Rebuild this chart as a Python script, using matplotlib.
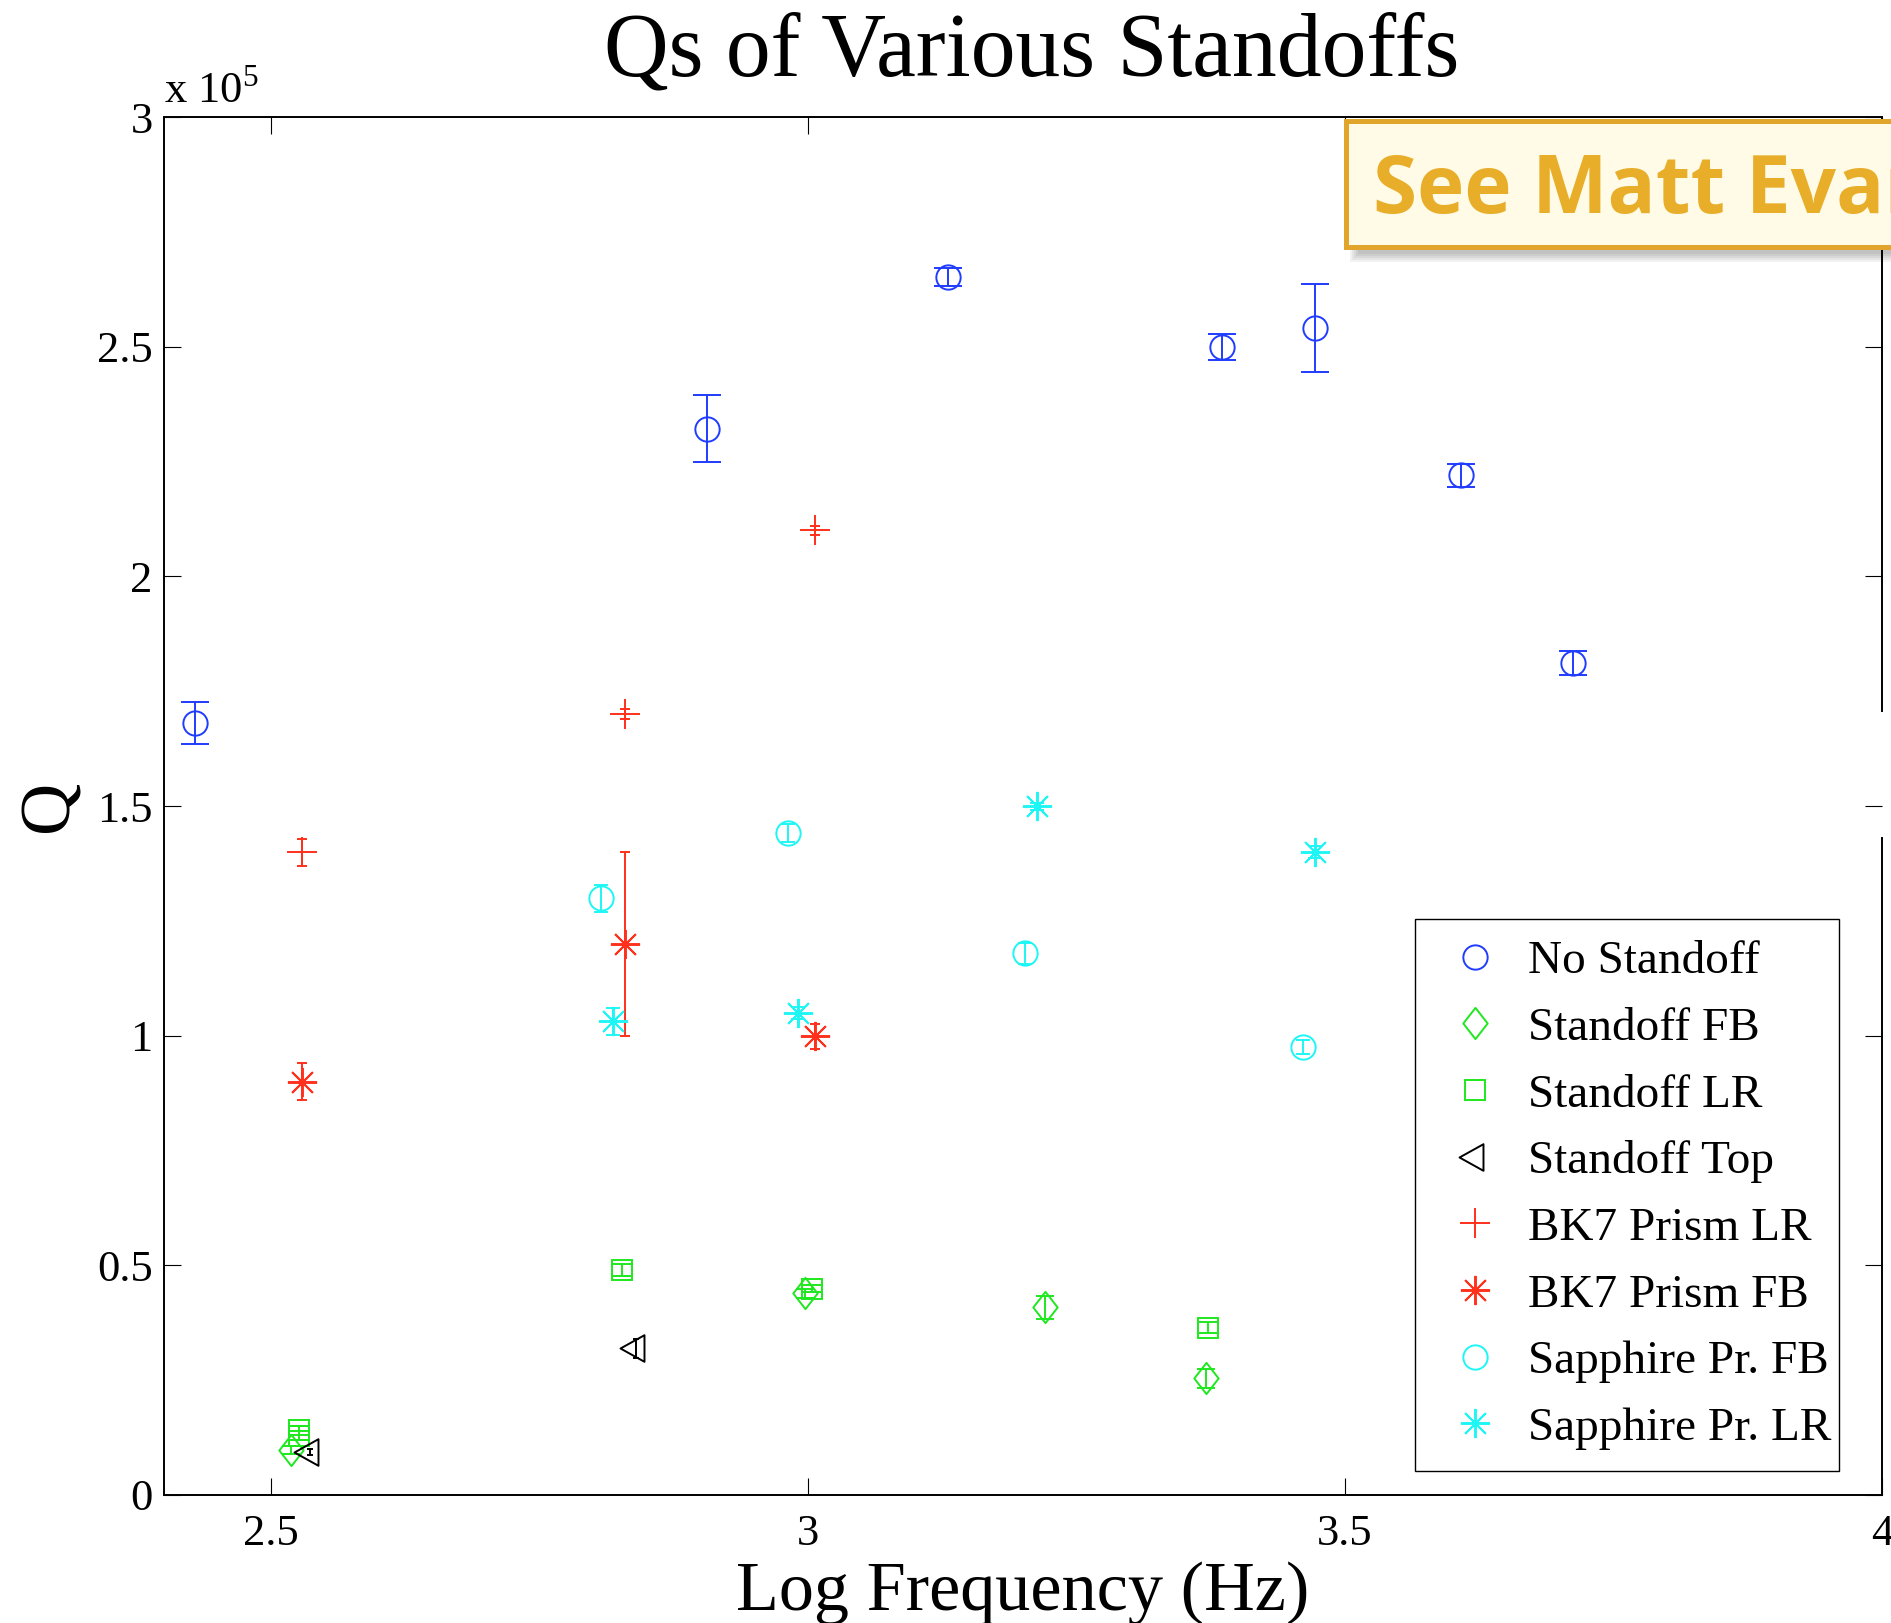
import numpy as np
import matplotlib
matplotlib.use("Agg")
import matplotlib.pyplot as plt
from matplotlib.lines import Line2D
from matplotlib.patches import Rectangle
from matplotlib.path import Path
from matplotlib.ticker import FixedLocator, FuncFormatter

# ---- data: log10 frequency (Hz), quality factor Q, and Q uncertainty ----
no_x = [2.429, 2.906, 3.130, 3.385, 3.472, 3.608, 3.712]
no_q = [1.680e5, 2.321e5, 2.652e5, 2.500e5, 2.540e5, 2.220e5, 1.811e5]
no_e = [0.046e5, 0.073e5, 0.019e5, 0.028e5, 0.096e5, 0.025e5, 0.026e5]

sfb_x = [2.519, 2.997, 3.221, 3.371]
sfb_q = [0.098e5, 0.439e5, 0.409e5, 0.254e5]
sfb_e = [0.008e5, 0.010e5, 0.025e5, 0.020e5]

slr_x = [2.526, 2.526, 2.827, 3.004, 3.372]
slr_q = [0.141e5, 0.129e5, 0.490e5, 0.449e5, 0.364e5]
slr_e = [0.010e5, 0.010e5, 0.013e5, 0.008e5, 0.012e5]

stop_x = [2.536, 2.840]
stop_q = [0.094e5, 0.319e5]
stop_e = [0.007e5, 0.020e5]

bk7lr_x = [2.529, 2.830, 3.006]
bk7lr_q = [1.399e5, 1.700e5, 2.100e5]
bk7lr_e = [0.030e5, 0.0105e5, 0.010e5]

bk7fb_x = [2.529, 2.830, 3.006]
bk7fb_q = [0.900e5, 1.199e5, 0.999e5]
bk7fb_e = [0.040e5, 0.200e5, 0.027e5]

sapfb_x = [2.807, 2.981, 3.202, 3.461]
sapfb_q = [1.299e5, 1.441e5, 1.179e5, 0.975e5]
sapfb_e = [0.030e5, 0.020e5, 0.022e5, 0.016e5]

saplr_x = [2.818, 2.991, 3.213, 3.472]
saplr_q = [1.031e5, 1.050e5, 1.499e5, 1.399e5]
saplr_e = [0.030e5, 0.013e5, 0.008e5, 0.013e5]

labels = ["No Standoff", "Standoff FB", "Standoff LR", "Standoff Top",
          "BK7 Prism LR", "BK7 Prism FB", "Sapphire Pr. FB", "Sapphire Pr. LR"]

x_ticks = [2.5, 3.0, 3.5, 4.0]
x_tick_labels = ["2.5", "3", "3.5", "4"]
y_ticks = [0, 0.5e5, 1.0e5, 1.5e5, 2.0e5, 2.5e5, 3.0e5]
y_tick_labels = ["0", "0.5", "1", "1.5", "2", "2.5", "3"]

# ---- styling ----
BLUE = "#1f3cff"
GREEN = "#1ee81e"
BLACK = "#000000"
RED = "#ff301c"
CYAN = "#1ef6f6"
LW = 1.4

plt.rcParams["font.family"] = ["Liberation Serif", "DejaVu Serif"]
plt.rcParams["mathtext.fontset"] = "custom"
plt.rcParams["mathtext.rm"] = "Liberation Serif"

# MATLAB-like marker shapes
diamond = Path([(0, 1), (0.78, 0), (0, -1), (-0.78, 0), (0, 1)],
               [Path.MOVETO, Path.LINETO, Path.LINETO, Path.LINETO, Path.CLOSEPOLY])
tri_left = Path([(-1.2, 0), (0.6, 1.0), (0.6, -1.0), (-1.2, 0)],
                [Path.MOVETO, Path.LINETO, Path.LINETO, Path.CLOSEPOLY])
asterisk = (8, 2, 0)

series = [
    (no_x, no_q, no_e, "o", 17.5, BLUE),
    (sfb_x, sfb_q, sfb_e, diamond, 22.5, GREEN),
    (slr_x, slr_q, slr_e, "s", 14.5, GREEN),
    (stop_x, stop_q, stop_e, tri_left, 23.0, BLACK),
    (bk7lr_x, bk7lr_q, bk7lr_e, "+", 21.0, RED),
    (bk7fb_x, bk7fb_q, bk7fb_e, asterisk, 21.0, RED),
    (sapfb_x, sapfb_q, sapfb_e, "o", 17.5, CYAN),
    (saplr_x, saplr_q, saplr_e, asterisk, 21.0, CYAN),
]

W, H = 1891, 1623
fig = plt.figure(figsize=(W / 100, H / 100), dpi=100)
ax = fig.add_axes([163.7 / W, 1 - 1495 / H, (1882 - 163.7) / W, (1495 - 117) / H])
ax.set_xlim(2.4, 4.0)
ax.set_ylim(0, 3.0e5)

# error-bar tee width follows the x-span of each series (1/50 of it)
ax_px_per_unit = ax.get_window_extent().width / (ax.get_xlim()[1] - ax.get_xlim()[0])

handles = []
for x, q, e, m, ms, c in series:
    cap_px = np.ptp(x) / 50.0 * ax_px_per_unit
    ax.errorbar(x, q, yerr=e, fmt="none", ecolor=c, elinewidth=LW,
                capsize=cap_px / 2 * 72 / 100, capthick=LW, zorder=2)
    ax.plot(x, q, ls="none", marker=m, ms=ms, mfc="none", mec=c, mew=LW, zorder=3)
    handles.append(Line2D([], [], ls="none", marker=m, ms=ms, mfc="none", mec=c, mew=LW))

# axes, ticks
ax.xaxis.set_major_locator(FixedLocator(x_ticks))
ax.xaxis.set_major_formatter(FuncFormatter(lambda v, p: x_tick_labels[x_ticks.index(round(v, 2))]))
ax.yaxis.set_major_locator(FixedLocator(y_ticks))
ax.yaxis.set_major_formatter(FuncFormatter(lambda v, p: y_tick_labels[int(round(v / 0.5e5))]))
ax.tick_params(direction="in", length=12.2, width=0.8, top=True, right=True,
               labelsize=32, colors="black")
ax.tick_params(axis="x", pad=14)
ax.tick_params(axis="y", pad=8)
for s in ax.spines.values():
    s.set_linewidth(1.4)

# right frame edge is interrupted in the middle
ax.spines["right"].set_visible(False)
for y0, y1 in [(0.0, 0.4768), (0.569, 1.0)]:
    ax.add_line(Line2D([1, 1], [y0, y1], transform=ax.transAxes, color="black",
                       lw=1.4, clip_on=False, zorder=5))
for t in ax.yaxis.get_major_ticks():
    if abs(t.get_loc() - 1.5e5) < 1:
        t.tick2line.set_visible(False)

ax.text(0.0, 1.0 + 14 / 1378, r"x 10$^{\mathrm{5}}$", transform=ax.transAxes,
        fontsize=32, ha="left", va="baseline")

ax.set_title("Qs of Various Standoffs", fontsize=64.5, pad=30, x=0.5 + 8.5 / 1718)
ax.set_xlabel("Log Frequency (Hz)", fontsize=50.6, labelpad=5)
ax.set_ylabel("Q", fontsize=52, labelpad=10)

# legend frame spans a fixed horizontal extent
lx0 = (1415 - 163.7) / 1718.3
lx1 = (1839 - 163.7) / 1718.3
ly = (1495 - 919) / 1378
leg = ax.legend(handles, labels, loc="upper left", mode="expand",
                bbox_to_anchor=(lx0, ly, lx1 - lx0, 0),
                borderaxespad=0, fontsize=34, frameon=True, fancybox=False,
                edgecolor="black", framealpha=1, borderpad=0.45, handlelength=1.66,
                handletextpad=0.28, labelspacing=0.5)
leg.get_frame().set_linewidth(1.0)


# callout box sitting over the top-right corner
def fx(px):
    return px / W


def fy(py):
    return 1 - py / H


for i in range(5):
    g = 2 * i
    fig.add_artist(Rectangle((fx(1350 + g), fy(262 - g)), fx(900), (262 - 125 - 2 * g) / H,
                             transform=fig.transFigure, facecolor="black", edgecolor="none",
                             alpha=0.05, zorder=8))
fig.add_artist(Rectangle((fx(1345.5), fy(246.5)), fx(900), 125 / H, transform=fig.transFigure,
                         facecolor="#fffbe6", edgecolor="#e2a52b", linewidth=3.6, zorder=9))
fig.text(fx(1373), fy(213), "See Matt Evans", fontsize=57.5, fontweight="bold",
         family="Open Sans", color="#e8ae2a", ha="left", va="baseline", zorder=10)

fig.savefig("out.png", dpi=100)
